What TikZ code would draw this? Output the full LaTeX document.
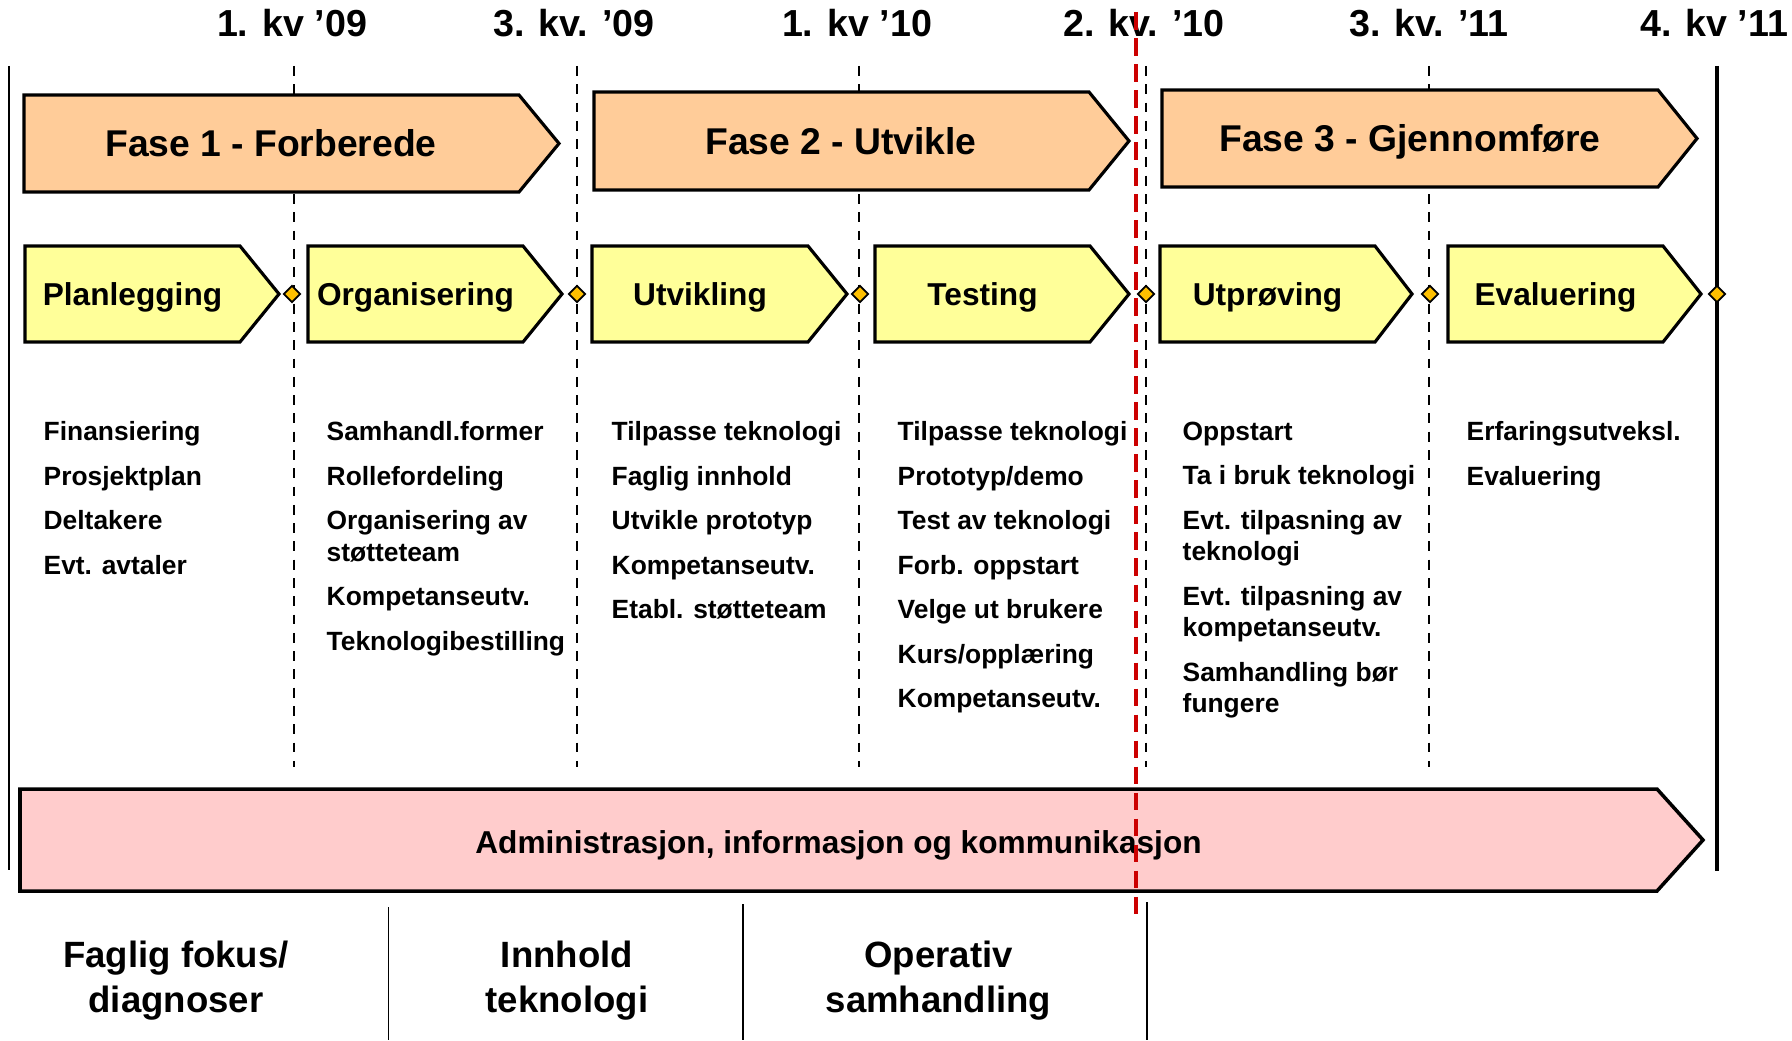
\documentclass[tikz,border=0pt]{standalone}
\usepackage{fontspec}
\setmainfont{Liberation Sans}
\usetikzlibrary{shapes,positioning}

\definecolor{fasefarge}{RGB}{255,204,153}
\definecolor{aktfarge}{RGB}{255,255,153}
\definecolor{adminfarge}{RGB}{255,204,204}
\definecolor{punktfarge}{RGB}{255,192,0}
\definecolor{idagfarge}{RGB}{204,0,0}

\begin{document}
\begin{tikzpicture}[x=0.01cm,y=-0.01cm]
		\tikzstyle{fase}=[draw,line width=0.9pt,fill=fasefarge]
		\tikzstyle{aktivitet}=[draw,line width=0.9pt,fill=aktfarge]
		\tikzstyle{admin}=[draw,line width=1pt,fill=adminfarge]
		\tikzstyle{kvartal}=[dash pattern=on 2.8pt off 2.4pt,line width=0.6pt]
		\tikzstyle{punkt}=[draw,shape=diamond,fill=punktfarge,inner sep=0pt,minimum width=0.17cm,minimum height=0.17cm,line width=0.5pt]
		\tikzstyle{tid}=[anchor=base,font=\fontsize{10.7}{12}\selectfont\bfseries]
		\tikzstyle{fasetekst}=[anchor=base,font=\fontsize{10.6}{12}\selectfont\bfseries]
		\tikzstyle{akttekst}=[anchor=base,font=\fontsize{9}{10}\selectfont\bfseries]
		\tikzstyle{liste}=[anchor=north west,align=left,inner sep=0pt,font=\fontsize{7.5}{8.96}\selectfont\bfseries]
		\tikzstyle{fokus}=[anchor=base,align=center,inner sep=0pt,font=\fontsize{10.4}{12.8}\selectfont\bfseries]

		\useasboundingbox (0,0) rectangle (1792,1040);

		% kvartaler
		\node[tid](t1) at (292,36.5){1. kv ’09};
		\node[tid](t2) at (574,36.5){3. kv. ’09};
		\node[tid](t3) at (857,36.5){1. kv ’10};
		\node[tid](t4) at (1144,36.5){2. kv. ’10};
		\node[tid](t5) at (1429,36.5){3. kv. ’11};
		\node[tid](t6) at (1714,36.5){4. kv ’11};

		\draw[line width=0.6pt] (9,66) -- (9,870);
		\draw[line width=1.4pt] (1717,66) -- (1717,871);
		\draw[kvartal] (294,66) -- (294,767);
		\draw[kvartal] (577,66) -- (577,767);
		\draw[kvartal] (859,66) -- (859,767);
		\draw[kvartal] (1146,66) -- (1146,767);
		\draw[kvartal] (1429,66) -- (1429,767);

		% faser
		\draw[fase] (24,95) -- (519,95) -- (559,143.5) -- (519,192) -- (24,192) -- cycle;
		\node[fasetekst](f1) at (271,157){Fase 1 - Forberede};
		\draw[fase] (594,92) -- (1089,92) -- (1129,141) -- (1089,190) -- (594,190) -- cycle;
		\node[fasetekst](f2) at (841,154.5){Fase 2 - Utvikle};
		\draw[fase] (1162,90) -- (1658,90) -- (1697,138.5) -- (1658,187) -- (1162,187) -- cycle;
		\node[fasetekst](f3) at (1410,152){Fase 3 - Gjennomføre};

		% aktiviteter
		\draw[aktivitet] (25,246) -- (240,246) -- (279,294) -- (240,342) -- (25,342) -- cycle;
		\node[akttekst](a1) at (132.5,305){Planlegging};
		\draw[aktivitet] (308,246) -- (523,246) -- (562,294) -- (523,342) -- (308,342) -- cycle;
		\node[akttekst](a2) at (415.5,305){Organisering};
		\draw[aktivitet] (592,246) -- (808,246) -- (847,294) -- (808,342) -- (592,342) -- cycle;
		\node[akttekst](a3) at (700,305){Utvikling};
		\draw[aktivitet] (875,246) -- (1090,246) -- (1129,294) -- (1090,342) -- (875,342) -- cycle;
		\node[akttekst](a4) at (982.5,305){Testing};
		\draw[aktivitet] (1160,246) -- (1375,246) -- (1412,294) -- (1375,342) -- (1160,342) -- cycle;
		\node[akttekst](a5) at (1267.5,305){Utprøving};
		\draw[aktivitet] (1448,246) -- (1663,246) -- (1701,294) -- (1663,342) -- (1448,342) -- cycle;
		\node[akttekst](a6) at (1555.5,305){Evaluering};

		\node[punkt](p1) at (292,294){};
		\node[punkt](p2) at (577,294){};
		\node[punkt](p3) at (860,294){};
		\node[punkt](p4) at (1146,294){};
		\node[punkt](p5) at (1430,294){};
		\node[punkt](p6) at (1717,294){};

		% oppgaver
		\node[liste](l1) at (43,421){Finansiering\\[3.7pt]Prosjektplan\\[3.7pt]Deltakere\\[3.7pt]Evt. avtaler};
		\node[liste](l2) at (326,421){Samhandl.former\\[3.7pt]Rollefordeling\\[3.7pt]Organisering av\\støtteteam\\[3.7pt]Kompetanseutv.\\[3.7pt]Teknologibestilling};
		\node[liste](l3) at (611,421){Tilpasse teknologi\\[3.7pt]Faglig innhold\\[3.7pt]Utvikle prototyp\\[3.7pt]Kompetanseutv.\\[3.7pt]Etabl. støtteteam};
		\node[liste](l4) at (897,421){Tilpasse teknologi\\[3.7pt]Prototyp/demo\\[3.7pt]Test av teknologi\\[3.7pt]Forb. oppstart\\[3.7pt]Velge ut brukere\\[3.7pt]Kurs/opplæring\\[3.7pt]Kompetanseutv.};
		\node[liste](l5) at (1182,421){Oppstart\\[3.7pt]Ta i bruk teknologi\\[3.7pt]Evt. tilpasning av\\teknologi\\[3.7pt]Evt. tilpasning av\\kompetanseutv.\\[3.7pt]Samhandling bør\\fungere};
		\node[liste](l6) at (1466,421){Erfaringsutveksl.\\[3.7pt]Evaluering};

		% administrasjon
		\draw[admin] (20,789) -- (1657,789) -- (1703,840) -- (1657,891) -- (20,891) -- cycle;
		\node[anchor=base,font=\fontsize{9}{10}\selectfont\bfseries](adm) at (838.5,853){Administrasjon, informasjon og kommunikasjon};

		% fokus
		\draw[line width=0.5pt] (388.6,907) -- (388.6,1040);
		\draw[line width=0.5pt] (743,904) -- (743,1040);
		\draw[line width=0.5pt] (1147,902) -- (1147,1040);
		\node[fokus](k1) at (176,1012){Faglig fokus/\\diagnoser};
		\node[fokus](k2) at (567,1012){Innhold\\teknologi};
		\node[fokus](k3) at (938.5,1012){Operativ\\samhandling};

		% i dag
		\draw[idagfarge,dash pattern=on 5pt off 2.4pt,line width=1pt] (1136,12) -- (1136,917);
	\end{tikzpicture}
\end{document}
